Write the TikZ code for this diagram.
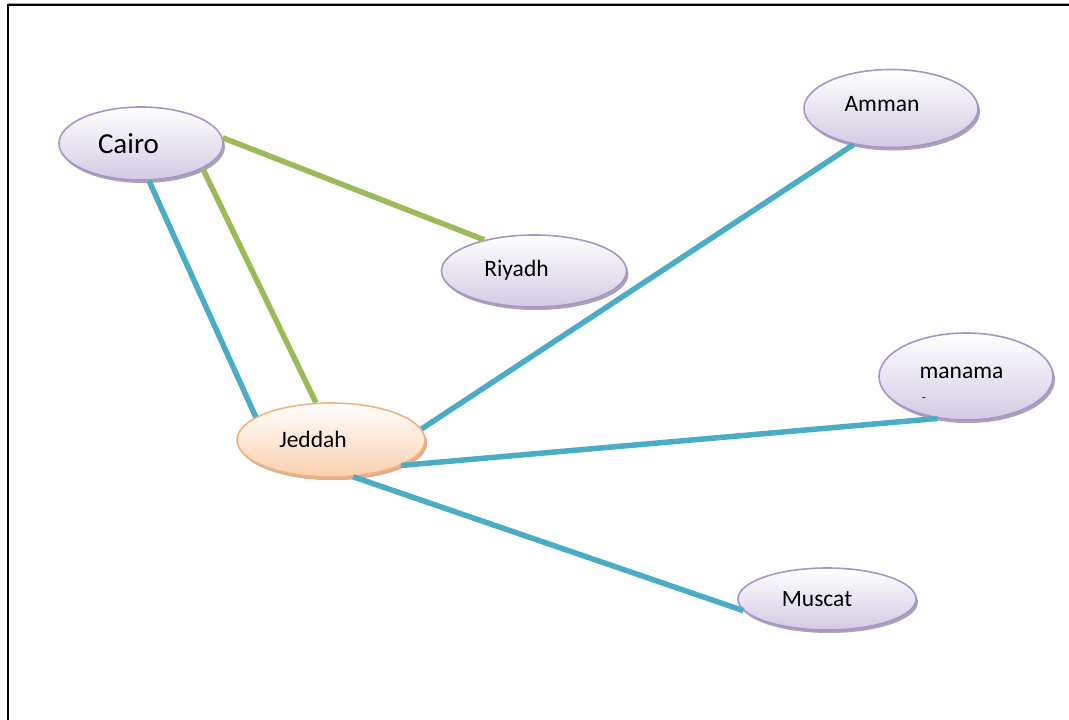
\documentclass[tikz,border=0pt]{standalone}
\usepackage{fontspec}
\setmainfont{Carlito}
\usetikzlibrary{shapes.geometric,shadows}
\definecolor{lineGreen}{HTML}{9BBB59}
\definecolor{lineBlue}{HTML}{4BACC6}
\definecolor{purpBorder}{HTML}{A895C8}
\definecolor{purpBottom}{HTML}{D3CAE3}
\definecolor{purpShadow}{HTML}{ABA2BA}
\definecolor{orBorder}{HTML}{F6B27E}
\definecolor{orBottom}{HTML}{FAD0AE}
\definecolor{orShadow}{HTML}{DDAF90}
\tikzset{
  city/.style={ellipse, draw=purpBorder, line width=1.6pt, inner sep=0pt,
    shading=axis, top color=white, bottom color=purpBottom,
    drop shadow={shadow xshift=2pt, shadow yshift=-3pt, fill=purpShadow, opacity=1}},
  hub/.style={city, draw=orBorder, bottom color=orBottom,
    drop shadow={shadow xshift=2pt, shadow yshift=-3pt, fill=orShadow, opacity=1}},
  lbl/.style={anchor=base, inner sep=0pt, font=\fontsize{23.5}{26}\selectfont},
  link/.style={line width=5.5pt},
}
\begin{document}
\begin{tikzpicture}[x=1pt,y=-1pt]
\useasboundingbox (0,0) rectangle (1069,720);
\draw[line width=1pt, black!35] (8,3.2) -- (1069,3.2);
\draw[line width=2.5pt] (8,720) -- (8,5) -- (1069,5);
% nodes
\node[city, minimum width=164pt, minimum height=73pt] (cairo) at (141,143.5) {};
\node[city, minimum width=174pt, minimum height=78pt] (amman) at (891,108.5) {};
\node[city, minimum width=185pt, minimum height=72pt] (riyadh) at (534,271) {};
\node[city, minimum width=174pt, minimum height=87pt] (manama) at (966,376.5) {};
\node[hub,  minimum width=188pt, minimum height=74pt] (jeddah) at (331,440) {};
\node[city, minimum width=178pt, minimum height=62pt] (muscat) at (827,599) {};
% connectors
\draw[link, lineGreen] (cairo.4) -- (riyadh.148);
\draw[link, lineGreen] (cairo.-22) -- (jeddah.112);
\draw[link, lineBlue] (cairo.-78) -- (jeddah.163);
\draw[link, lineBlue] (jeddah.7) -- (amman.-136);
\draw[link, lineBlue] (jeddah.-20) -- (manama.-124);
\draw[link, lineBlue] (jeddah.-59) -- (muscat.-172);
% labels
\node[lbl, font=\fontsize{29}{32}\selectfont] (cairoT) at (128.5,153) {Cairo};
\node[lbl] (ammanT) at (882,111) {Amman};
\node[lbl] (riyadhT) at (516.5,276) {Riyadh};
\node[lbl] (manamaT) at (961.5,378) {manama};
\node[lbl, font=\fontsize{12}{14}\selectfont] (dashT) at (924,401) {-};
\node[lbl] (jeddahT) at (313,447) {Jeddah};
\node[lbl] (muscatT) at (817,606) {Muscat};
\end{tikzpicture}
\end{document}
